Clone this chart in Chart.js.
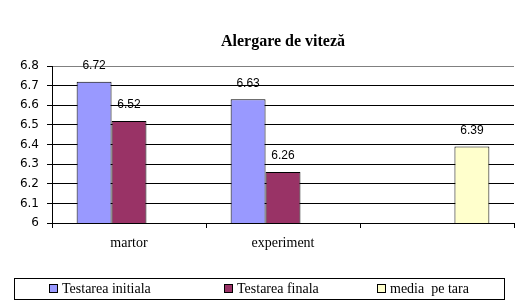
<!DOCTYPE html>
<html>
<head>
<meta charset="utf-8">
<script src="https://cdn.jsdelivr.net/npm/chart.js@4"></script>
<style>
  html, body { margin: 0; padding: 0; background: #fff; }
  #wrap { width: 523px; height: 304px; }
</style>
</head>
<body>
<div id="wrap"><canvas id="chart" width="523" height="304"></canvas></div>
<script>
// ===== Data =====
const categories = ['martor', 'experiment', ''];
const initiala = [6.72, 6.63, null];
const finala = [6.52, 6.26, null];
const mediaTara = [null, null, 6.39];
const yTicks = [6, 6.1, 6.2, 6.3, 6.4, 6.5, 6.6, 6.7, 6.8];

const chartTitle = 'Alergare de viteză';

// ===== Plugins =====
const titlePlugin = {
  id: 'titlePlugin',
  afterDraw(chart) {
    const { ctx, chartArea } = chart;
    ctx.save();
    ctx.font = 'bold 16px "Liberation Serif"';
    ctx.fillStyle = '#000';
    ctx.textAlign = 'center';
    ctx.textBaseline = 'middle';
    ctx.fillText(chartTitle, (chartArea.left + chartArea.right) / 2, 42);
    ctx.restore();
  }
};

const valueLabels = {
  id: 'valueLabels',
  afterDatasetsDraw(chart) {
    const { ctx } = chart;
    ctx.save();
    ctx.font = '12px "Liberation Sans"';
    ctx.fillStyle = '#000';
    ctx.textAlign = 'center';
    ctx.textBaseline = 'bottom';
    chart.data.datasets.forEach((ds, i) => {
      chart.getDatasetMeta(i).data.forEach((bar, j) => {
        const v = ds.data[j];
        if (v == null) return;
        ctx.fillText(v.toFixed(2), bar.x, bar.y - 10);
      });
    });
    ctx.restore();
  }
};

const boxLegend = {
  id: 'boxLegend',
  afterDraw(chart) {
    const { ctx } = chart;
    const itemX = [49, 224, 377];
    ctx.save();
    ctx.strokeStyle = '#000';
    ctx.lineWidth = 1;
    ctx.strokeRect(14.5, 278.5, 490, 21);
    ctx.font = '14px "Liberation Serif"';
    ctx.textBaseline = 'middle';
    ctx.textAlign = 'left';
    chart.data.datasets.forEach((ds, i) => {
      const x = itemX[i];
      ctx.fillStyle = ds.backgroundColor;
      ctx.fillRect(x + 0.5, 284.5, 8, 8);
      ctx.strokeRect(x + 0.5, 284.5, 8, 8);
      ctx.fillStyle = '#000';
      ctx.fillText(ds.label, x + 13, 289);
    });
    ctx.restore();
  }
};

// ===== Chart =====
new Chart(document.getElementById('chart'), {
  type: 'bar',
  data: {
    labels: categories,
    datasets: [
      { label: 'Testarea initiala', data: initiala, backgroundColor: '#9999FF' },
      { label: 'Testarea finala', data: finala, backgroundColor: '#993366' },
      { label: 'media  pe tara', data: mediaTara, backgroundColor: '#FFFFCC' }
    ].map(d => ({ ...d, borderColor: '#000', borderWidth: 1, barPercentage: 1, categoryPercentage: 0.68 }))
  },
  options: {
    responsive: false,
    animation: false,
    events: [],
    layout: { padding: { left: 0, top: 66, right: 9, bottom: 51 } },
    plugins: { legend: { display: false }, title: { display: false }, tooltip: { enabled: false } },
    scales: {
      x: {
        afterFit: s => { s.height = 30; },
        grid: { offset: true, drawOnChartArea: false, drawTicks: true, tickLength: 5, color: '#000' },
        border: { color: '#000', width: 1 },
        ticks: { color: '#000', font: { family: 'Liberation Serif', size: 14 }, padding: 7 }
      },
      y: {
        min: 6, max: 6.8,
        afterFit: s => { s.width = 52; },
        afterBuildTicks: s => { s.ticks = yTicks.map(v => ({ value: v })); },
        grid: {
          color: c => (c.tick && c.tick.value >= 6.8 ? '#808080' : '#000'),
          tickColor: '#000',
          tickLength: 5,
          drawTicks: true
        },
        border: { color: '#000', width: 1 },
        ticks: {
          color: '#000',
          font: { family: 'DejaVu Sans', size: 12 },
          padding: 8,
          callback: v => String(Math.round(v * 10) / 10)
        }
      }
    }
  },
  plugins: [titlePlugin, valueLabels, boxLegend]
});
</script>
</body>
</html>
